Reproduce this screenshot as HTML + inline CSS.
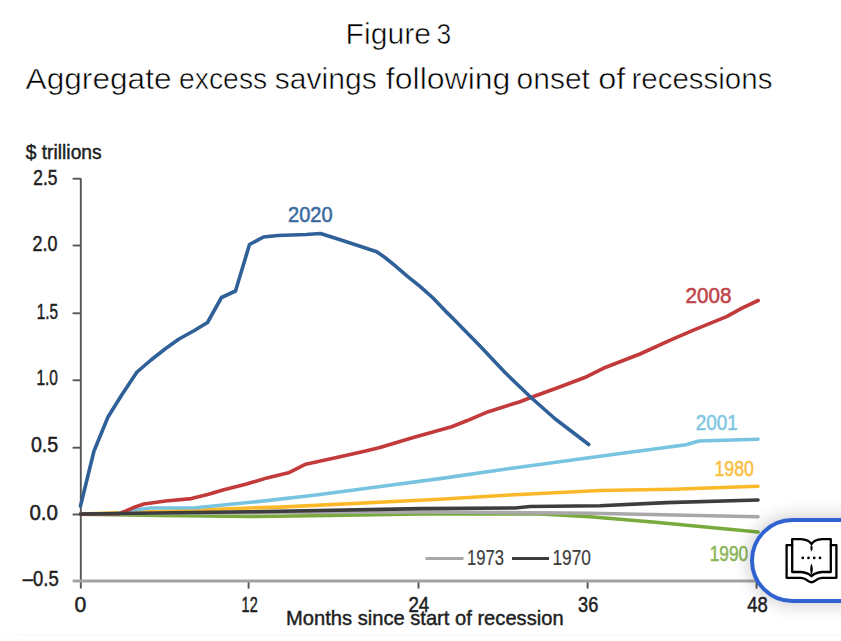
<!DOCTYPE html>
<html><head><meta charset="utf-8">
<style>
html,body{margin:0;padding:0;background:#fff;}
body{width:841px;height:641px;overflow:hidden;position:relative;font-family:"Liberation Sans",sans-serif;}
svg{position:absolute;left:0;top:0;}
.pill{position:absolute;left:750.3px;top:517.6px;width:200px;height:77.6px;border:4px solid #3063cf;border-radius:43px;background:#fff;box-shadow:0 0 16px 3px rgba(0,0,0,0.18);}
</style></head>
<body>
<svg width="841" height="641" viewBox="0 0 841 641" font-family="Liberation Sans, sans-serif">
<rect x="0" y="634" width="841" height="7" fill="#fdfdfd"/><rect x="19" y="634" width="822" height="1" fill="#f7f7f7"/>
<text x="345.6" y="43.6" font-size="29" fill="#000" textLength="85.37" lengthAdjust="spacingAndGlyphs" stroke="#fff" stroke-width="0.55">Figure</text>
<text x="436.6" y="43.6" font-size="29" fill="#000" textLength="14.67" lengthAdjust="spacingAndGlyphs" stroke="#fff" stroke-width="0.55">3</text>
<text x="25.6" y="88.6" font-size="29" fill="#000" textLength="145.93" lengthAdjust="spacingAndGlyphs" stroke="#fff" stroke-width="0.55">Aggregate</text>
<text x="179.0" y="88.6" font-size="29" fill="#000" textLength="88.23" lengthAdjust="spacingAndGlyphs" stroke="#fff" stroke-width="0.55">excess</text>
<text x="274.8" y="88.6" font-size="29" fill="#000" textLength="101.94" lengthAdjust="spacingAndGlyphs" stroke="#fff" stroke-width="0.55">savings</text>
<text x="385.8" y="88.6" font-size="29" fill="#000" textLength="124.64" lengthAdjust="spacingAndGlyphs" stroke="#fff" stroke-width="0.55">following</text>
<text x="516.6" y="88.6" font-size="29" fill="#000" textLength="73.32" lengthAdjust="spacingAndGlyphs" stroke="#fff" stroke-width="0.55">onset</text>
<text x="598.2" y="88.6" font-size="29" fill="#000" textLength="27.16" lengthAdjust="spacingAndGlyphs" stroke="#fff" stroke-width="0.55">of</text>
<text x="631.4" y="88.6" font-size="29" fill="#000" textLength="141.05" lengthAdjust="spacingAndGlyphs" stroke="#fff" stroke-width="0.55">recessions</text>
<text x="25.7" y="159.4" font-size="20" fill="#1e1e1e" textLength="76" lengthAdjust="spacingAndGlyphs" stroke="#1e1e1e" stroke-width="0.45">$ trillions</text>
<text x="33.3" y="184.6" font-size="22" fill="#1e1e1e" textLength="24.1" lengthAdjust="spacingAndGlyphs" stroke="#1e1e1e" stroke-width="0.5">2.5</text>
<text x="32.5" y="251.2" font-size="22" fill="#1e1e1e" textLength="24.9" lengthAdjust="spacingAndGlyphs" stroke="#1e1e1e" stroke-width="0.5">2.0</text>
<text x="36.7" y="318.6" font-size="22" fill="#1e1e1e" textLength="21.3" lengthAdjust="spacingAndGlyphs" stroke="#1e1e1e" stroke-width="0.5">1.5</text>
<text x="36.4" y="385.4" font-size="22" fill="#1e1e1e" textLength="21.5" lengthAdjust="spacingAndGlyphs" stroke="#1e1e1e" stroke-width="0.5">1.0</text>
<text x="30.9" y="452.2" font-size="22" fill="#1e1e1e" textLength="27.3" lengthAdjust="spacingAndGlyphs" stroke="#1e1e1e" stroke-width="0.5">0.5</text>
<text x="29.4" y="519.6" font-size="22" fill="#1e1e1e" textLength="28.5" lengthAdjust="spacingAndGlyphs" stroke="#1e1e1e" stroke-width="0.5">0.0</text>
<text x="22.8" y="586.0" font-size="22" fill="#1e1e1e" textLength="35.9" lengthAdjust="spacingAndGlyphs" stroke="#1e1e1e" stroke-width="0.5">–0.5</text>
<text x="74.4" y="611.8" font-size="22" fill="#1e1e1e" textLength="11.8" lengthAdjust="spacingAndGlyphs" stroke="#1e1e1e" stroke-width="0.5">0</text>
<text x="241.6" y="611.8" font-size="22" fill="#1e1e1e" textLength="16.1" lengthAdjust="spacingAndGlyphs" stroke="#1e1e1e" stroke-width="0.5">12</text>
<text x="408.4" y="611.8" font-size="22" fill="#1e1e1e" textLength="20.8" lengthAdjust="spacingAndGlyphs" stroke="#1e1e1e" stroke-width="0.5">24</text>
<text x="578.1" y="611.8" font-size="22" fill="#1e1e1e" textLength="20.2" lengthAdjust="spacingAndGlyphs" stroke="#1e1e1e" stroke-width="0.5">36</text>
<text x="747.2" y="611.8" font-size="22" fill="#1e1e1e" textLength="20.5" lengthAdjust="spacingAndGlyphs" stroke="#1e1e1e" stroke-width="0.5">48</text>
<text x="286" y="625.4" font-size="21" fill="#1e1e1e" textLength="277.6" lengthAdjust="spacingAndGlyphs" stroke="#1e1e1e" stroke-width="0.45">Months since start of recession</text>
<g stroke="#555" stroke-width="1.9" fill="none">
<line x1="80.8" y1="178.2" x2="80.8" y2="588.6"/>
<line x1="72.6" y1="178.7" x2="80.8" y2="178.7"/>
<line x1="72.6" y1="245.5" x2="80.8" y2="245.5"/>
<line x1="72.6" y1="313.3" x2="80.8" y2="313.3"/>
<line x1="72.6" y1="380.3" x2="80.8" y2="380.3"/>
<line x1="72.6" y1="447.7" x2="80.8" y2="447.7"/>
<line x1="72.6" y1="514.5" x2="80.8" y2="514.5"/>
<line x1="248.6" y1="581" x2="248.6" y2="588.6"/>
<line x1="418.5" y1="581" x2="418.5" y2="588.6"/>
<line x1="587.6" y1="581" x2="587.6" y2="588.6"/>
<line x1="756.6" y1="581" x2="756.6" y2="588.6"/>
</g>
<line x1="72.6" y1="580.9" x2="757.5" y2="580.9" stroke="#a3a3a3" stroke-width="3"/>
<g fill="none" stroke-width="3.6" stroke-linejoin="round" stroke-linecap="round">
<polyline stroke="#78aa3c" points="80.5,514.3 160,515.5 250,516.5 330,515.5 420,514 540,514 590,516.8 655.5,522.3 758,532"/>
<polyline stroke="#a8a8a8" points="80.5,514 280,512.5 430,512 590,513.3 758,516.8"/>
<polyline stroke="#fbb92a" points="80.5,514 170,511 250,508 280,507.1 440,499.3 510,495 600,490.5 673,489.3 758,486.2"/>
<polyline stroke="#78c4e0" points="80.5,514.3 118,513.5 128,510.8 150.7,508 195.6,507.8 260,501.4 314,495.3 378.5,486.7 440,478.6 510,468.5 600,456.2 686,444.8 699,441 758,439.3"/>
<polyline stroke="#c23a3a" points="80.5,514.3 119,513.8 126,511 135,507 144,504 165.6,501 191.4,498.6 208.6,494.3 222.9,490 245.7,484.3 267,477.9 288.5,472.8 305.7,464.2 340,456.7 363.5,451.4 380,447.5 413.3,437.5 451.7,426.7 466.7,420.8 488.3,411.7 520,401.7 530.8,397.5 558.3,387.5 586.7,376.7 603.3,368.3 640,354 670.9,339.9 694.1,329.8 726.6,316.7 742,308.2 758.2,300.5"/>
<polyline stroke="#3d3d3d" points="80.5,514 250,511.8 420,508.6 515,508 530,506.5 600,505.8 666.4,502.6 758,500"/>
<polyline stroke="#2f6097" points="80.5,506 94,451 108,417 122,394.5 137,372 151,360 165,349 179,339 193.5,331 207.5,322.5 221.5,297.5 235.5,291 249.5,244.5 263.5,237 278,235.5 292,235 306,234.5 320.5,233.5 343.3,240.8 376.7,251.7 385,257.5 395,265.6 407.5,276.3 420,286.3 432.5,297.5 445,310.6 455,320.5 480,346 505,372.5 531,397.5 555,418.75 588.75,444.5"/>
</g>
<text x="288" y="222.1" font-size="22" fill="#3a6a9e" textLength="44.6" lengthAdjust="spacingAndGlyphs" stroke="#3a6a9e" stroke-width="0.55">2020</text>
<text x="685.6" y="302.8" font-size="22" fill="#c0444a" textLength="45.9" lengthAdjust="spacingAndGlyphs" stroke="#c0444a" stroke-width="0.55">2008</text>
<text x="695.8" y="429.5" font-size="22" fill="#7fc6e2" textLength="42.1" lengthAdjust="spacingAndGlyphs" stroke="#7fc6e2" stroke-width="0.55">2001</text>
<text x="714.5" y="476.2" font-size="22" fill="#f9c043" textLength="39.5" lengthAdjust="spacingAndGlyphs" stroke="#f9c043" stroke-width="0.55">1980</text>
<text x="709.7" y="561.3" font-size="22" fill="#8bb55a" textLength="38.5" lengthAdjust="spacingAndGlyphs" stroke="#8bb55a" stroke-width="0.55">1990</text>
<line x1="425.5" y1="558.5" x2="463.5" y2="558.5" stroke="#a8a8a8" stroke-width="3"/>
<text x="467" y="565" font-size="22" fill="#3c3c3c" textLength="37" lengthAdjust="spacingAndGlyphs" stroke="#444" stroke-width="0.2">1973</text>
<line x1="512" y1="558.5" x2="549" y2="558.5" stroke="#3d3d3d" stroke-width="3"/>
<text x="552.4" y="565" font-size="22" fill="#3c3c3c" textLength="38.6" lengthAdjust="spacingAndGlyphs" stroke="#444" stroke-width="0.2">1970</text>
</svg>
<div class="pill"></div>
<svg width="841" height="641" viewBox="0 0 841 641">
<g fill="none" stroke="#000" stroke-width="2.3" stroke-linejoin="round" stroke-linecap="round">
    <path d="M792.2,539.2 L801,539.2 Q808.5,539.6 811.5,544 Q814.5,539.6 822,539.2 L830.8,539.2 L830.8,572 L822,572 Q815,572.5 811.5,576.2 Q808,572.5 801,572 L792.2,572 Z"/>
    <path d="M792.2,545.2 L786.6,545.2 L786.6,577.8 L801,577.8 Q805,578 808,580.8 Q811.5,583.6 815,580.8 Q818,578 822,577.8 L836.4,577.8 L836.4,545.2 L830.8,545.2"/>
  </g>
  <g fill="#000">
    <path d="M811.5,544.5 Q813.8,548 811.5,551.5 Q809.2,548 811.5,544.5 Z"/>
    <path d="M811.5,563.5 Q814.2,569 811.5,575.5 Q808.8,569 811.5,563.5 Z"/>
    <circle cx="802.8" cy="557.9" r="1.35"/><circle cx="808.5" cy="557.9" r="1.35"/><circle cx="814.2" cy="557.9" r="1.35"/><circle cx="820" cy="557.9" r="1.35"/>
  </g>
</svg>
</body></html>
